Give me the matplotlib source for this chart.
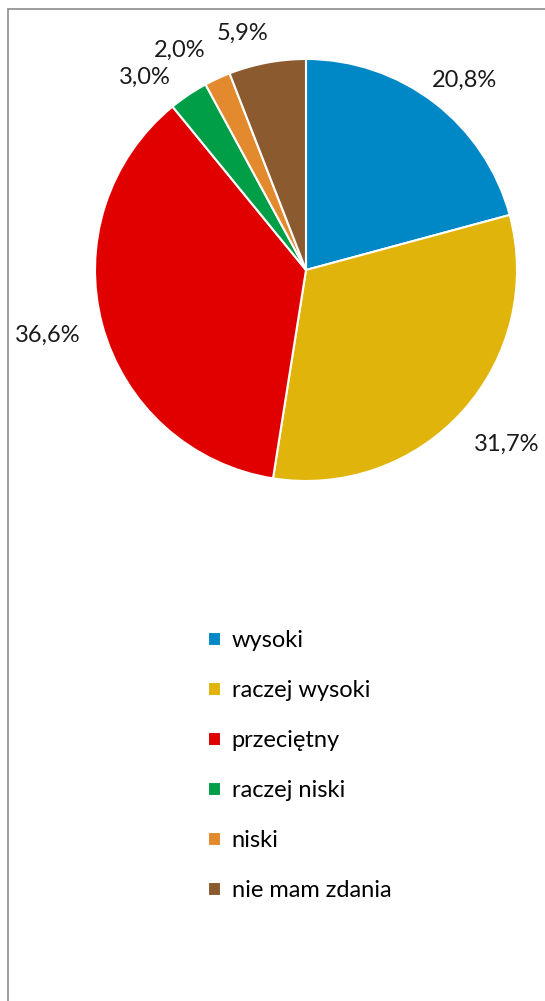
import numpy as np
import matplotlib
matplotlib.use('Agg')
import matplotlib.pyplot as plt
from matplotlib.patches import Rectangle

# dane
categories = ['wysoki', 'raczej wysoki', 'przeciętny', 'raczej niski', 'niski', 'nie mam zdania']
values = [20.8, 31.7, 36.6, 3.0, 2.0, 5.9]
colors = ['#0088C6', '#E0B40A', '#E00000', '#009E47', '#E38A2F', '#8B5A2E']

# pozycje etykiet (odległość od środka w promieniach, przesunięcie kąta w stopniach)
label_r = [1.17, 1.26, 1.26, 1.19, 1.20, 1.16]
label_shift = [-2.5, 1, -1, 6, 5, 4.5]

plt.rcParams['font.family'] = ['Lato', 'DejaVu Sans']

fig = plt.figure(figsize=(5.45, 10.01), dpi=100)
W, H = 545, 1001
cx, cy, R = 306, 270, 211
ax = fig.add_axes([(cx - R) / W, (H - cy - R) / H, 2 * R / W, 2 * R / H])

wedges, _ = ax.pie(values, colors=colors, startangle=90, counterclock=False,
                   radius=1, wedgeprops=dict(edgecolor='white', linewidth=1.5))
ax.set_xlim(-1, 1)
ax.set_ylim(-1, 1)
ax.set_aspect('equal')
ax.axis('off')

for w, v, r, s in zip(wedges, values, label_r, label_shift):
    ang = np.deg2rad((w.theta1 + w.theta2) / 2 + s)
    ax.text(r * np.cos(ang), r * np.sin(ang), f'{v:.1f}%'.replace('.', ','),
            ha='center', va='center', fontsize=17, color='#1a1a1a', clip_on=False)

fig.legend(wedges, categories, loc='upper left', bbox_to_anchor=(208 / W, 1 - 630 / H),
           frameon=False, fontsize=17, handlelength=0.55, handleheight=0.55,
           handletextpad=0.45, labelspacing=1.23, borderpad=0, borderaxespad=0)

# ramka
fig.patches.append(Rectangle((7.5 / W, -0.02), 1.0, 1 - 9 / H + 0.02, transform=fig.transFigure,
                             fill=False, edgecolor='#8c8c8c', linewidth=1.2))

fig.savefig('out.png', dpi=100)
